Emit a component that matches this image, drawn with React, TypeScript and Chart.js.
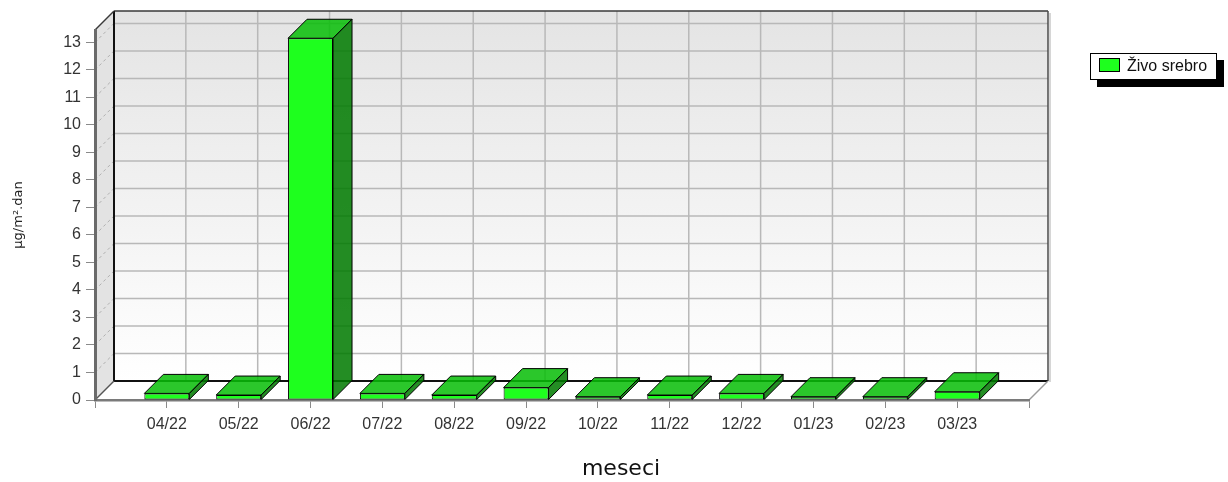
import React, { useEffect, useRef } from 'react';
import { Chart, registerables } from 'chart.js';

Chart.register(...registerables);

// ---------- data ----------
const categories = ['04/22', '05/22', '06/22', '07/22', '08/22', '09/22', '10/22', '11/22', '12/22', '01/23', '02/23', '03/23'];
const mercuryValues = [0.24, 0.18, 13.15, 0.24, 0.18, 0.45, 0.12, 0.18, 0.24, 0.12, 0.12, 0.3];
const yTickValues = [0, 1, 2, 3, 4, 5, 6, 7, 8, 9, 10, 11, 12, 13];
const yAxisMax = 13.45;
const seriesName = 'Živo srebro';
const yTitle = 'µg/m².dan';
const xTitle = 'meseci';

// axis labels with empty slots at both ends (the 3D category axis has a margin of one slot)
const axisLabels = ['', ...categories, ''];
const axisData = [null, ...mercuryValues, null];

const FONT = 'DejaVu Sans';
const TICK_FONT = 'Liberation Sans';
const DX = 19;
const DY = 19;

function poly(ctx: CanvasRenderingContext2D, pts: number[][]) {
  ctx.beginPath();
  ctx.moveTo(pts[0][0], pts[0][1]);
  for (let i = 1; i < pts.length; i++) ctx.lineTo(pts[i][0], pts[i][1]);
  ctx.closePath();
}

function line(ctx: CanvasRenderingContext2D, x1: number, y1: number, x2: number, y2: number, color: string, w: number) {
  ctx.beginPath();
  ctx.strokeStyle = color;
  ctx.lineWidth = w;
  ctx.moveTo(x1, y1);
  ctx.lineTo(x2, y2);
  ctx.stroke();
}

const walls3d = {
  id: 'walls3d',
  beforeDraw(chart: any) {
    const { ctx, chartArea: a, scales } = chart;
    const xs = scales.x;
    const ys = scales.y;
    const L = a.left, R = a.right, T = a.top, B = a.bottom;
    ctx.save();
    // left side wall
    poly(ctx, [[L, T], [L + DX, T - DY], [L + DX, B - DY], [L, B]]);
    ctx.fillStyle = '#e3e3e3';
    ctx.fill();
    // floor
    poly(ctx, [[L, B], [L + DX, B - DY], [R + DX, B - DY], [R, B]]);
    ctx.fillStyle = '#ffffff';
    ctx.fill();
    // back wall
    const g = ctx.createLinearGradient(0, T - DY, 0, B - DY);
    g.addColorStop(0, '#e4e4e4');
    g.addColorStop(1, '#ffffff');
    ctx.fillStyle = g;
    ctx.fillRect(L + DX, T - DY, R - L, B - T);

    // horizontal grid lines on back wall + dashed on side wall
    yTickValues.forEach((v) => {
      if (v === 0) return;
      const py = ys.getPixelForValue(v);
      line(ctx, L + DX, py - DY, R + DX, py - DY, '#b8b8b8', 1.5);
      ctx.setLineDash([3, 3]);
      line(ctx, L, py, L + DX, py - DY, '#b0b0b0', 1);
      ctx.setLineDash([]);
    });
    // vertical grid lines on back wall
    categories.forEach((_c, i) => {
      const px = xs.getPixelForValue(i + 1);
      line(ctx, px + DX, T - DY, px + DX, B - DY, '#b8b8b8', 1.5);
    });

    // outlines
    line(ctx, L + DX, T - DY, R + DX, T - DY, '#3a3a3a', 1.5);
    line(ctx, R + DX, T - DY, R + DX, B - DY, '#4a4a4a', 1.5);
    line(ctx, R + DX + 2, T - DY + 2, R + DX + 2, B - DY + 1, '#c8c8c8', 1.5);
    line(ctx, L + DX, T - DY, L + DX, B - DY, '#111111', 2);
    line(ctx, L + DX, B - DY, R + DX, B - DY, '#111111', 2);
    line(ctx, L, T, L + DX, T - DY, '#3a3a3a', 1.5);
    line(ctx, L, B, L + DX, B - DY, '#555555', 1.5);
    line(ctx, R, B, R + DX, B - DY, '#9a9a9a', 1.5);
    ctx.restore();
  },
  afterDatasetsDraw(chart: any) {
    const { ctx } = chart;
    const meta = chart.getDatasetMeta(0);
    const data = chart.data.datasets[0].data;
    ctx.save();
    ctx.lineWidth = 1;
    ctx.strokeStyle = '#000000';
    meta.data.forEach((el: any, i: number) => {
      if (data[i] == null) return;
      const { x, y, base, width } = el.getProps(['x', 'y', 'base', 'width'], true);
      const l = x - width / 2;
      const r = x + width / 2;
      // top face
      poly(ctx, [[l, y], [l + DX, y - DY], [r + DX, y - DY], [r, y]]);
      ctx.fillStyle = 'rgba(8,190,8,0.86)';
      ctx.fill();
      ctx.stroke();
      // side face
      poly(ctx, [[r, y], [r + DX, y - DY], [r + DX, base - DY], [r, base]]);
      ctx.fillStyle = 'rgba(0,122,0,0.86)';
      ctx.fill();
      ctx.stroke();
    });
    ctx.restore();
  },
};

export default function App() {
  const ref = useRef<HTMLCanvasElement | null>(null);

  useEffect(() => {
    if (!ref.current) return;
    const chart = new Chart(ref.current, {
      type: 'bar',
      data: {
        labels: axisLabels,
        datasets: [
          {
            label: seriesName,
            data: axisData as any,
            backgroundColor: '#1eff1e',
            borderColor: '#000000',
            borderWidth: 1,
            borderSkipped: false,
            barPercentage: 0.626,
            categoryPercentage: 1,
          },
        ],
      },
      options: {
        responsive: false,
        animation: false,
        layout: { padding: { left: 14, right: 0, top: 30, bottom: 0 } },
        plugins: {
          legend: { display: false },
          tooltip: { enabled: false },
          title: {
            display: true,
            text: xTitle,
            position: 'bottom',
            color: '#111111',
            font: { family: FONT, size: 22, weight: 'normal' },
            padding: 0,
          },
        },
        scales: {
          x: {
            type: 'category',
            offset: false,
            grid: { display: true, offset: false, drawOnChartArea: false, drawTicks: true, tickLength: 8, color: '#8a8a8a', lineWidth: 1 },
            border: { display: true, color: '#7a7a7a', width: 2.5 },
            ticks: { color: '#333333', font: { family: TICK_FONT, size: 16 }, padding: 7, autoSkip: false, maxRotation: 0 },
            afterFit: (s: any) => {
              s.height = 55.6;
            },
          },
          y: {
            type: 'linear',
            position: 'left',
            min: 0,
            max: yAxisMax,
            grid: { display: true, drawOnChartArea: false, drawTicks: true, tickLength: 9, color: '#8a8a8a', lineWidth: 1 },
            border: { display: true, color: '#6a6a6a', width: 3 },
            ticks: { stepSize: 1, includeBounds: false, color: '#333333', font: { family: TICK_FONT, size: 16 }, padding: 5 },
            title: {
              display: true,
              text: yTitle,
              color: '#222222',
              font: { family: FONT, size: 13, lineHeight: 1 },
              padding: { top: -2, bottom: 0 },
            },
            afterFit: (s: any) => {
              s.width = 81;
            },
          },
          yR: {
            type: 'linear',
            position: 'right',
            display: true,
            grid: { display: false },
            border: { display: false },
            ticks: { display: false },
            afterFit: (s: any) => {
              s.width = 199;
            },
          },
        },
      } as any,
      plugins: [walls3d],
    });
    return () => chart.destroy();
  }, []);

  return (
    <div style={{ position: 'absolute', left: 0, top: 0, width: 1228, height: 482, background: '#ffffff' }}>
      <canvas ref={ref} width={1228} height={482} style={{ display: 'block', width: 1228, height: 482 }} />
      <div
        style={{
          position: 'absolute',
          left: 1090,
          top: 53,
          width: 125,
          height: 25,
          border: '1px solid #000',
          background: '#fff',
          boxShadow: '7px 7px 0 #000',
          fontFamily: TICK_FONT,
          fontSize: 16,
          color: '#111',
        }}
      >
        <span
          style={{
            position: 'absolute',
            left: 8,
            top: 4,
            width: 19,
            height: 12,
            border: '1px solid #000',
            background: '#1eff1e',
          }}
        />
        <span style={{ position: 'absolute', left: 36, top: 2, lineHeight: '19px', whiteSpace: 'nowrap' }}>{seriesName}</span>
      </div>
    </div>
  );
}
